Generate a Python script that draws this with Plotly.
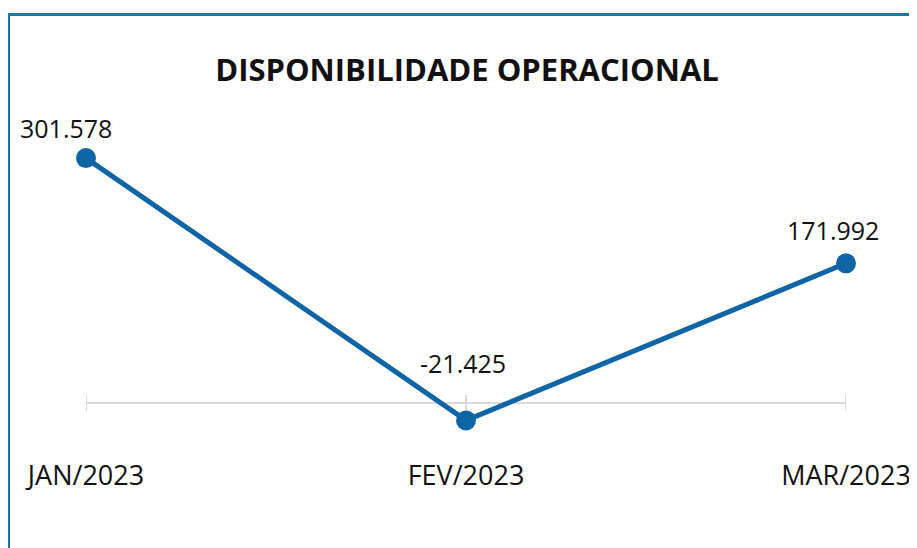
import plotly.graph_objects as go

# ---- data ----
categories = ["JAN/2023", "FEV/2023", "MAR/2023"]
values = [301578, -21425, 171992]
value_labels = ["301.578", "-21.425", "171.992"]
title_text = "DISPONIBILIDADE OPERACIONAL"

# ---- style ----
LINE_COLOR = "#0f64a6"
BORDER_COLOR = "#2272aa"
GRID_COLOR = "#d9d9d9"
FONT = "Open Sans"
label_yshift = [30, 57, 33]
label_xshift = [-20, -3, -13]

# page body has an 8px margin, so the figure is 8px smaller and drawn in its own coords
W, H = 909, 540
L, R, T, B = 78, 71, 92, 91
pw, ph = W - L - R, H - T - B

xs = list(range(len(categories)))

fig = go.Figure()
fig.add_trace(go.Scatter(
    x=xs, y=values, mode="lines+markers",
    line=dict(color=LINE_COLOR, width=5),
    marker=dict(color=LINE_COLOR, size=20),
    cliponaxis=False, hoverinfo="skip",
))

shapes = []
# zero line
shapes.append(dict(type="line", xref="x", yref="y", x0=xs[0], x1=xs[-1], y0=0, y1=0,
                   line=dict(color=GRID_COLOR, width=2), layer="below"))
for i in xs:
    shapes.append(dict(type="line", xref="x", yref="y", ysizemode="pixel", yanchor=0,
                       x0=i, x1=i, y0=-8, y1=8,
                       line=dict(color=GRID_COLOR, width=2), layer="below"))
# border (left and top)
px = lambda p: (p - L) / pw
py = lambda p: (H - B - p) / ph
shapes.append(dict(type="line", xref="paper", yref="paper", x0=px(0.5), x1=px(0.5),
                   y0=py(5), y1=py(560), line=dict(color=BORDER_COLOR, width=3)))
shapes.append(dict(type="line", xref="paper", yref="paper", x0=px(-1), x1=px(930),
                   y0=py(6.5), y1=py(6.5), line=dict(color=BORDER_COLOR, width=3)))

annotations = []
for i, v, lab, ys, xsft in zip(xs, values, value_labels, label_yshift, label_xshift):
    annotations.append(dict(x=i, y=v, xref="x", yref="y", text=lab, showarrow=False,
                            yanchor="middle", xanchor="center", yshift=ys, xshift=xsft,
                            font=dict(family=FONT, size=25, color="#111111")))

fig.update_layout(
    width=W, height=H,
    margin=dict(l=L, r=R, t=T, b=B, autoexpand=False),
    paper_bgcolor="white", plot_bgcolor="white",
    showlegend=False,
    title=dict(text=f"<b>{title_text}</b>", x=459 / W, xanchor="center",
               y=1 - 62 / H, yanchor="middle",
               font=dict(family=FONT, size=31, color="#111111")),
    xaxis=dict(range=[xs[0], xs[-1]], tickmode="array", tickvals=xs, ticktext=categories,
               showgrid=False, zeroline=False, showline=False, ticks="",
               tickfont=dict(family=FONT, size=27, color="#111111"), fixedrange=True),
    yaxis=dict(range=[-66502, 373153], showgrid=False, zeroline=False, showline=False,
               showticklabels=False, ticks="", fixedrange=True),
    shapes=shapes, annotations=annotations,
)

fig.write_html("out.html")
